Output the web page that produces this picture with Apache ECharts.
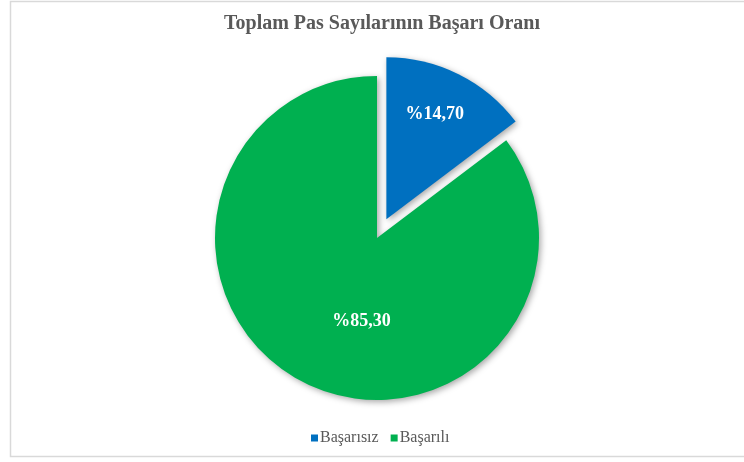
<!DOCTYPE html>
<html>
<head>
<meta charset="utf-8">
<script src="https://cdn.jsdelivr.net/npm/echarts@6/dist/echarts.min.js"></script>
<style>
  html, body { margin: 0; padding: 0; background: #ffffff; }
  #chart { width: 744px; height: 462px; }
</style>
</head>
<body>
<div id="chart"></div>
<script>
// pass success ratio
const categories = ['Başarısız', 'Başarılı'];
const values = [14.70, 85.30];
const colors = ['#0070C0', '#00B050'];
const labelNudge = [[11, -30], [22, 8]];

const chart = echarts.init(document.getElementById('chart'), null, { renderer: 'canvas' });

const serif = "'Liberation Serif', 'DejaVu Serif', serif";

let pieData = [];
for (let i = 0; i < categories.length; i++) {
    pieData.push({
        name: categories[i],
        value: values[i],
        selected: i === 0,
        itemStyle: { color: colors[i] },
        label: { offset: labelNudge[i] },
        select: { label: { offset: labelNudge[i] } }
    });
}

chart.setOption({
    backgroundColor: '#ffffff',
    animation: false,
    graphic: [{
        type: 'rect',
        shape: { x: 10.5, y: 1.5, width: 760, height: 455 },
        style: { fill: 'none', stroke: '#d9d9d9', lineWidth: 1.5 },
        z: -1
    }],
    title: {
        text: 'Toplam Pas Sayılarının Başarı Oranı',
        left: 377,
        textAlign: 'center',
        top: 9,
        textStyle: {
            fontFamily: serif,
            fontSize: 20,
            fontWeight: 'bold',
            color: '#595959'
        }
    },
    legend: {
        data: categories,
        left: 306,
        top: 425,
        icon: 'rect',
        itemWidth: 7,
        itemHeight: 7,
        itemGap: 12,
        selectedMode: false,
        textStyle: {
            fontFamily: serif,
            fontSize: 16,
            color: '#595959',
            padding: [0, 0, 0, -3]
        }
    },
    series: [{
        type: 'pie',
        center: [377, 238],
        radius: 162,
        startAngle: 90,
        clockwise: true,
        selectedMode: 'single',
        selectedOffset: 21,
        data: pieData,
        itemStyle: {
            shadowBlur: 6,
            shadowColor: 'rgba(0,0,0,0.35)',
            shadowOffsetX: 2,
            shadowOffsetY: 2
        },
        label: {
            show: true,
            position: 'inside',
            fontFamily: serif,
            fontSize: 18,
            fontWeight: 'bold',
            color: '#ffffff',
            formatter: (p) => '%' + p.value.toFixed(2).replace('.', ',')
        },
        labelLine: { show: false },
        emphasis: { disabled: true }
    }]
});
</script>
</body>
</html>
